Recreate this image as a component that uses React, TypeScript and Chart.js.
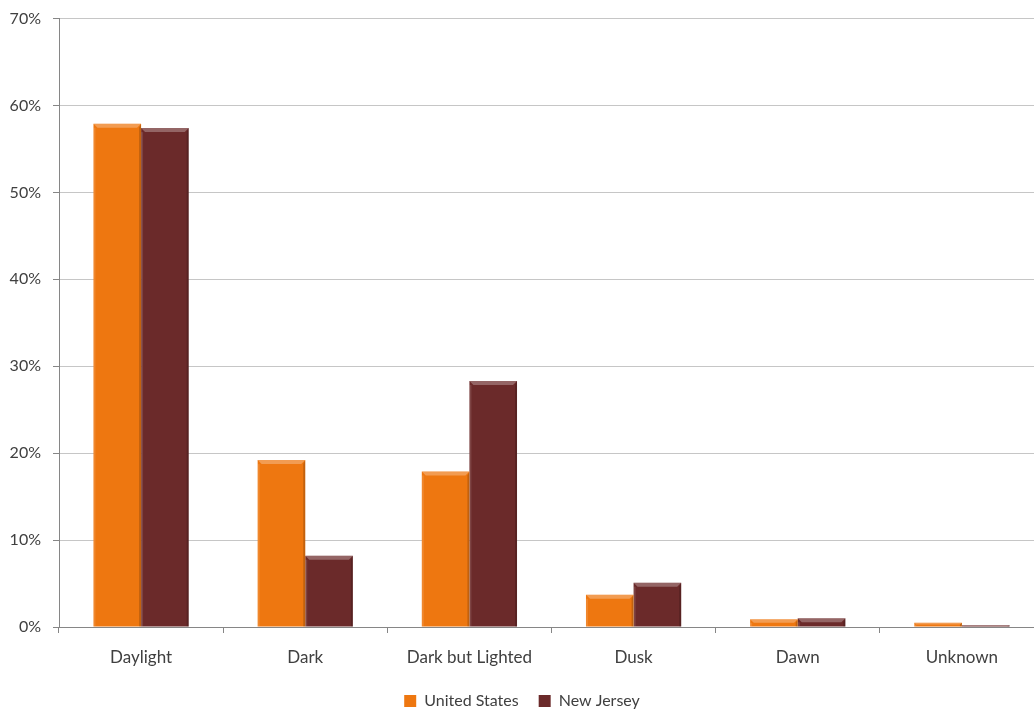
import React, { useEffect, useRef } from "react";
import { Chart, registerables } from "chart.js";

Chart.register(...registerables);

const categories = ["Daylight", "Dark", "Dark but Lighted", "Dusk", "Dawn", "Unknown"];
const unitedStates = [57.9, 19.2, 17.9, 3.7, 0.9, 0.5];
const newJersey = [57.4, 8.2, 28.3, 5.1, 1.0, 0.2];
const seriesNames = ["United States", "New Jersey"];
const seriesColors = ["#EE7710", "#6B2A2A"];

const bevelPlugin = {
  id: "bevel",
  afterDatasetsDraw(chart: any) {
    const ctx = chart.ctx;
    chart.data.datasets.forEach((_: any, di: number) => {
      const meta = chart.getDatasetMeta(di);
      meta.data.forEach((bar: any) => {
        const { x, y, base, width } = bar.getProps(["x", "y", "base", "width"], true);
        const left = x - width / 2;
        const right = x + width / 2;
        const h = base - y;
        if (h <= 0) return;
        const b = Math.min(4, h / 2);
        ctx.save();
        ctx.fillStyle = "rgba(255,255,255,0.28)";
        ctx.beginPath();
        ctx.moveTo(left, y);
        ctx.lineTo(right, y);
        ctx.lineTo(right - b, y + b);
        ctx.lineTo(left + b, y + b);
        ctx.closePath();
        ctx.fill();
        ctx.fillStyle = "rgba(0,0,0,0.18)";
        ctx.beginPath();
        ctx.moveTo(right, y);
        ctx.lineTo(right, base);
        ctx.lineTo(right - 2, base);
        ctx.lineTo(right - 2, y + b);
        ctx.closePath();
        ctx.fill();
        ctx.fillStyle = "rgba(255,255,255,0.12)";
        ctx.fillRect(left, y + b, 2, h - b);
        ctx.restore();
      });
    });
  },
};

export default function App() {
  const ref = useRef<HTMLCanvasElement>(null);
  useEffect(() => {
    if (!ref.current) return;
    const font = "Lato, 'Open Sans', sans-serif";
    const chart = new Chart(ref.current, {
      type: "bar",
      data: {
        labels: categories,
        datasets: [
          { label: seriesNames[0], data: unitedStates, backgroundColor: seriesColors[0] },
          { label: seriesNames[1], data: newJersey, backgroundColor: seriesColors[1] },
        ],
      },
      plugins: [bevelPlugin],
      options: {
        responsive: false,
        animation: false,
        layout: { padding: { top: 14, left: 0, right: 0, bottom: 0 } },
        datasets: { bar: { barPercentage: 1, categoryPercentage: 0.58 } },
        plugins: {
          tooltip: { enabled: false },
          legend: {
            position: "bottom",
            labels: {
              boxWidth: 12,
              boxHeight: 12,
              padding: 20,
              color: "#404040",
              font: { family: font, size: 16 },
            },
          },
        },
        scales: {
          x: {
            offset: true,
            grid: {
              offset: true,
              drawOnChartArea: false,
              tickLength: 6,
              color: "#868686",
            },
            border: { color: "#868686" },
            ticks: { color: "#404040", padding: 14, font: { family: font, size: 17 } },
            afterFit(scale: any) {
              scale.height = 46;
            },
          },
          y: {
            min: 0,
            max: 70,
            ticks: {
              stepSize: 10,
              color: "#404040",
              padding: 12,
              font: { family: font, size: 16 },
              callback: (v: any) => v + "%",
            },
            grid: { color: "#c6c6c6", tickLength: 6, tickColor: "#868686" },
            border: { color: "#868686" },
            afterFit(scale: any) {
              scale.width = 59;
            },
          },
        },
      },
    });
    return () => chart.destroy();
  }, []);
  return (
    <div style={{ position: "fixed", left: 0, top: 0, width: 1034, height: 712, overflow: "hidden", background: "#fff" }}>
      <canvas ref={ref} width={1044} height={722} style={{ position: "absolute", left: 0, top: -3 }} />
    </div>
  );
}
